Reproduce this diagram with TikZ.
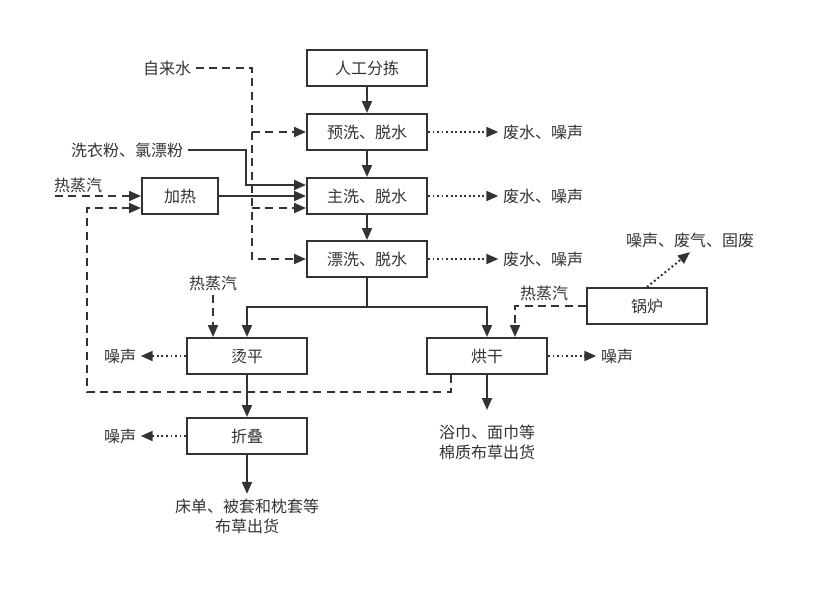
\documentclass[tikz,border=0pt]{standalone}
\usepackage{fontspec}
\usepackage{xcolor}
\usepackage{tikz}
\usetikzlibrary{arrows.meta}
\usetikzlibrary{calc}
\newfontfamily\cjk{Noto Sans CJK SC}
\definecolor{ink}{HTML}{333333}
\tikzstyle{procbox} = [draw=ink, line width=1.5pt, rectangle,
minimum width=90pt, minimum height=27pt, inner sep=0pt,
font=\cjk\fontsize{12pt}{15pt}\selectfont, text=ink]
\tikzstyle{plaintext} =[font=\cjk\fontsize{12pt}{15pt}\selectfont, text=ink, align=center]
\tikzstyle{wire} = [draw=ink, line width=1.5pt]
\tikzstyle{arrowed} = [-{Triangle[length=9pt,width=7.5pt]}]
\tikzstyle{dashwire} = [wire, dash pattern=on 6pt off 4pt]
\tikzstyle{dotwire} = [wire, dash pattern=on 1.4pt off 2pt]

\begin{document}
\begin{tikzpicture}[x=0.75pt,y=-0.75pt]
        \useasboundingbox (0,0) rectangle (820,601);
        % process boxes
        \node [procbox] (sort) at (367,68) {人工分拣};
        \node [procbox] (prewash) at (367,132) {预洗、脱水};
        \node [procbox] (mainwash) at (367,196) {主洗、脱水};
        \node [procbox] (rinse) at (367,259) {漂洗、脱水};
        \node [procbox, minimum width=57pt] (heater) at (180,196) {加热};
        \node [procbox] (iron) at (247,356) {烫平};
        \node [procbox] (dryer) at (487,356) {烘干};
        \node [procbox] (boiler) at (647,306) {锅炉};
        \node [procbox] (fold) at (247,436) {折叠};
        % texts
        \node [plaintext] (tap) at (167,68) {自来水};
        \node [plaintext] (powder) at (127,150) {洗衣粉、氯漂粉};
        \node [plaintext] (steamA) at (78,185) {热蒸汽};
        \node [plaintext] (steamB) at (213,283) {热蒸汽};
        \node [plaintext] (steamC) at (544,293) {热蒸汽};
        \node [plaintext] (wasteA) at (543,132) {废水、噪声};
        \node [plaintext] (wasteB) at (543,196) {废水、噪声};
        \node [plaintext] (wasteC) at (543,259) {废水、噪声};
        \node [plaintext] (exhaust) at (690,240) {噪声、废气、固废};
        \node [plaintext] (noiseA) at (120,356) {噪声};
        \node [plaintext] (noiseB) at (617,356) {噪声};
        \node [plaintext] (noiseC) at (120,436) {噪声};
        \node [plaintext] (goodsA) at (247,516) {床单、被套和枕套等\\布草出货};
        \node [plaintext] (goodsB) at (487,442) {浴巾、面巾等\\棉质布草出货};
        % helper points
        \coordinate (tapbend) at (252,68);
        \coordinate (powderbend) at (246,150);
        \coordinate (mainin1) at ($(mainwash.west)+(0,-11)$);
        \coordinate (mainin3) at ($(mainwash.west)+(0,12)$);
        \coordinate (steamstart) at (55,196);
        \coordinate (heatin2) at ($(heater.west)+(0,12)$);
        \coordinate (retdown) at (451,392);
        \coordinate (retleft) at (87,392);
        \coordinate (split) at (367,307);
        \coordinate (dryerin2) at ($(dryer.north)+(28,0)$);
        \coordinate (goodsBin) at (487,410);
        % main flow
        \draw [wire, arrowed] (sort) -- (prewash);
        \draw [wire, arrowed] (prewash) -- (mainwash);
        \draw [wire, arrowed] (mainwash) -- (rinse);
        \draw [wire] (rinse.south) -- (split);
        \draw [wire, arrowed] (split) -| (iron.north);
        \draw [wire, arrowed] (split) -| (dryer.north);
        \draw [wire, arrowed] (iron) -- (fold);
        \draw [wire, arrowed] (fold.south) -- (goodsA.north);
        \draw [wire, arrowed] (dryer.south) -- (goodsBin);
        % inputs
        \draw [wire, arrowed] (powder.east) -- (powderbend) |- (mainin1);
        \draw [wire, arrowed] (heater.east) -- (mainwash.west);
        \draw [dashwire, arrowed] (tap.east) -- (tapbend) |- (rinse.west);
        \draw [dashwire, arrowed] (tapbend |- prewash.west) -- (prewash.west);
        \draw [dashwire, arrowed] (tapbend |- mainin3) -- (mainin3);
        \draw [dashwire, arrowed] (steamstart) -- (heater.west);
        \draw [dashwire, arrowed] (dryer.south -| retdown) -- (retdown) -- (retleft) |- (heatin2);
        \draw [dashwire, arrowed] (steamB.south) -- (steamB.south |- iron.north);
        \draw [dashwire, arrowed] (boiler.west) -| (dryerin2);
        % outputs
        \draw [dotwire, arrowed] (prewash.east) -- (wasteA.west);
        \draw [dotwire, arrowed] (mainwash.east) -- (wasteB.west);
        \draw [dotwire, arrowed] (rinse.east) -- (wasteC.west);
        \draw [dotwire, arrowed] (boiler.north) -- (exhaust.south);
        \draw [dotwire, arrowed] (iron.west) -- (noiseA.east);
        \draw [dotwire, arrowed] (dryer.east) -- (noiseB.west);
        \draw [dotwire, arrowed] (fold.west) -- (noiseC.east);
    \end{tikzpicture}
\end{document}
